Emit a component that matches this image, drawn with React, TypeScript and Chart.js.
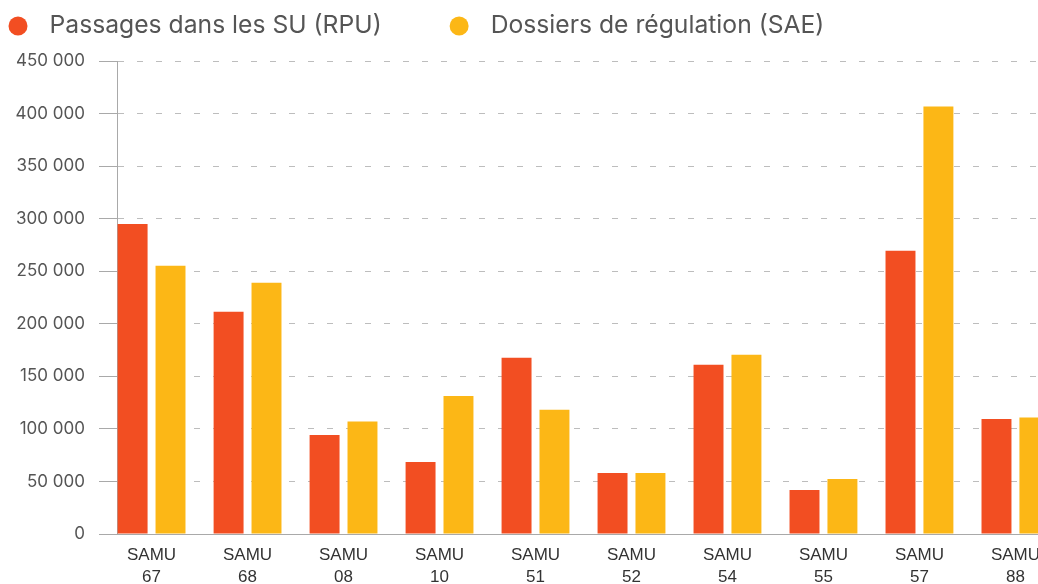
import { useEffect, useRef } from 'react';
import { Chart, registerables } from 'chart.js';

Chart.register(...registerables);

// ---- Data ----
const categoryPrefix = 'SAMU';
const categories = ['67', '68', '08', '10', '51', '52', '54', '55', '57', '88'];
const seriesLabels = ['Passages dans les SU (RPU)', 'Dossiers de régulation (SAE)'];
const passagesRPU = [295000, 211500, 94300, 68600, 167600, 58100, 161000, 41900, 269500, 109500];
const dossiersSAE = [255200, 239000, 107000, 131400, 118100, 58100, 170500, 52400, 406700, 110800];
const seriesColors = ['#F24E22', '#FCB716'];
const yMin = 0;
const yMax = 450000;
const yStep = 50000;

const formatThousands = (v: number) =>
  String(Math.round(v)).replace(/\B(?=(\d{3})+(?!\d))/g, ' ');

const legendPlugin = {
  id: 'topLegend',
  afterDraw(chart: any) {
    const { ctx } = chart;
    ctx.save();
    ctx.font = '24.7px Inter';
    ctx.textBaseline = 'alphabetic';
    ctx.textAlign = 'left';
    let x = 18;
    const cy = 26;
    const baseline = 33;
    chart.data.datasets.forEach((ds: any) => {
      ctx.fillStyle = ds.backgroundColor;
      ctx.beginPath();
      ctx.arc(x, cy, 9.5, 0, Math.PI * 2);
      ctx.fill();
      ctx.fillStyle = '#555555';
      ctx.fillText(ds.label, x + 31.5, baseline);
      x += 31.5 + ctx.measureText(ds.label).width + 77.5;
    });
    ctx.restore();
  },
};

export default function App() {
  const canvasRef = useRef<HTMLCanvasElement | null>(null);

  useEffect(() => {
    if (!canvasRef.current) return;
    const chart = new Chart(canvasRef.current, {
      type: 'bar',
      data: {
        datasets: [
          {
            label: seriesLabels[0],
            data: passagesRPU.map((y, i) => ({ x: i, y })),
            backgroundColor: seriesColors[0],
            borderWidth: 0,
          },
          {
            label: seriesLabels[1],
            data: dossiersSAE.map((y, i) => ({ x: i, y })),
            backgroundColor: seriesColors[1],
            borderWidth: 0,
          },
        ],
      },
      options: {
        responsive: false,
        animation: false,
        layout: { padding: { top: 61, left: 0, right: 0, bottom: 0 } },
        datasets: { bar: { categoryPercentage: 0.79, barPercentage: 0.79 } },
        plugins: {
          legend: { display: false },
          tooltip: { enabled: false },
        },
        scales: {
          x: {
            type: 'linear',
            offset: false,
            min: -0.36,
            max: 9.235,
            grid: { display: false, drawTicks: false, offset: false },
            border: { display: true, color: '#a9a9a9', width: 1 },
            afterBuildTicks: (scale: any) => {
              scale.ticks = categories.map((_, i) => ({ value: i }));
            },
            afterFit: (scale: any) => {
              scale.height = 50;
              scale.paddingLeft = 0;
              scale.paddingRight = 0;
            },
            ticks: {
              autoSkip: false,
              maxRotation: 0,
              padding: 11,
              color: '#333333',
              font: { family: 'Liberation Sans', size: 17, lineHeight: 1.25 },
              callback: (value: any) => [categoryPrefix, categories[Number(value)]],
            },
          },
          y: {
            min: yMin,
            max: yMax,
            grid: {
              color: '#bdbdbd',
              lineWidth: 1,
              tickLength: 18,
              tickColor: '#a9a9a9',
              tickBorderDash: [],
            },
            border: { display: true, color: '#a9a9a9', width: 1, dash: [6, 13] },
            afterFit: (scale: any) => {
              scale.width = 117;
              scale.paddingTop = 0;
              scale.paddingBottom = 0;
            },
            ticks: {
              stepSize: yStep,
              padding: 14,
              color: '#555555',
              font: { family: 'Inter', size: 17 },
              callback: (value: any) => formatThousands(Number(value)),
            },
          },
        },
      },
      plugins: [legendPlugin],
    } as any);
    return () => chart.destroy();
  }, []);

  return (
    <canvas
      ref={canvasRef}
      width={1038}
      height={584}
      style={{ position: 'absolute', left: 0, top: 0, width: 1038, height: 584 }}
    />
  );
}
